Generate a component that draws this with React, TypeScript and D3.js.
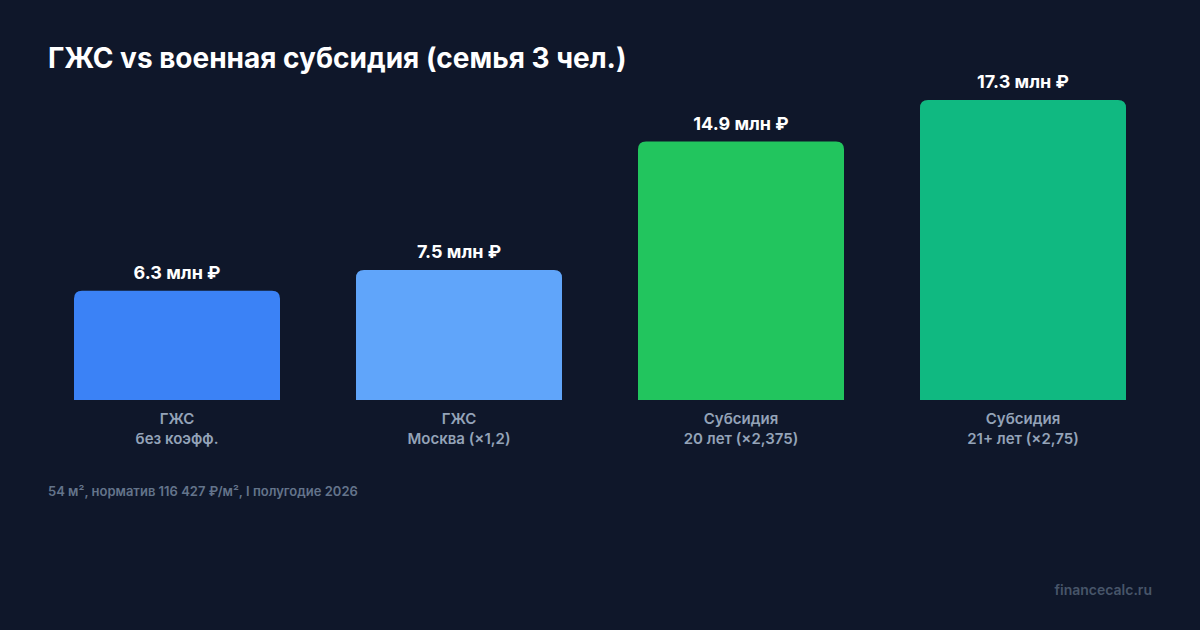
import * as React from 'react';
import {scaleBand, scaleLinear} from 'd3';

const categories = ['gzs', 'gzsMoscow', 'sub20', 'sub21'];
const labelLine1 = ['ГЖС', 'ГЖС', 'Субсидия', 'Субсидия'];
const labelLine2 = ['без коэфф.', 'Москва (×1,2)', '20 лет (×2,375)', '21+ лет (×2,75)'];
const values = [6.3, 7.5, 14.9, 17.3];
const valueLabels = ['6.3 млн ₽', '7.5 млн ₽', '14.9 млн ₽', '17.3 млн ₽'];
const colors = ['#3b82f6', '#60a5fa', '#22c55e', '#10b981'];

const W = 1200;
const H = 630;
const FONT = 'Inter, "Noto Sans", sans-serif';

// rect with only the top corners rounded
function topRoundedBar(x: number, y: number, w: number, h: number, r: number) {
  const rr = Math.min(r, h, w / 2);
  return `M${x},${y + h}V${y + rr}Q${x},${y} ${x + rr},${y}H${x + w - rr}Q${x + w},${y} ${x + w},${y + rr}V${y + h}Z`;
}

export default function App() {
  const x = scaleBand<string>()
    .domain(categories)
    .range([74, 1126])
    .paddingInner(76 / 282)
    .paddingOuter(0);
  const y = scaleLinear().domain([0, 17.3]).range([400, 100]);
  const bw = x.bandwidth();

  return <svg width={W} height={H} style={{position: 'absolute', left: 0, top: 0, display: 'block'}}
              fontFamily={FONT}>
    <rect x={0} y={0} width={W} height={H} fill="#0f172a" />
    <text x={48} y={68} fill="#ffffff" fontSize={28} fontWeight={700}>
      ГЖС vs военная субсидия (семья 3 чел.)
    </text>

    {categories.map((c, i) => {
      const bx = x(c) as number;
      const top = y(values[i]);
      const cx = bx + bw / 2;
      return <g key={c}>
        <path d={topRoundedBar(bx, top, bw, y(0) - top, 8)} fill={colors[i]} />
        <text x={cx} y={top - 12} textAnchor="middle" fill="#ffffff" fontSize={18} fontWeight={700}>
          {valueLabels[i]}
        </text>
        <text x={cx} y={424} textAnchor="middle" fill="#94a3b8" fontSize={15} fontWeight={600}>
          {labelLine1[i]}
        </text>
        <text x={cx} y={444} textAnchor="middle" fill="#94a3b8" fontSize={15} fontWeight={600}>
          {labelLine2[i]}
        </text>
      </g>;
    })}

    <text x={48} y={496} fill="#64748b" fontSize={13} fontWeight={600}>
      54 м², норматив 116 427 ₽/м², I полугодие 2026
    </text>
    <text x={1152} y={595} textAnchor="end" fill="#475569" fontSize={14} fontWeight={600}>
      financecalc.ru
    </text>
  </svg>;
}
